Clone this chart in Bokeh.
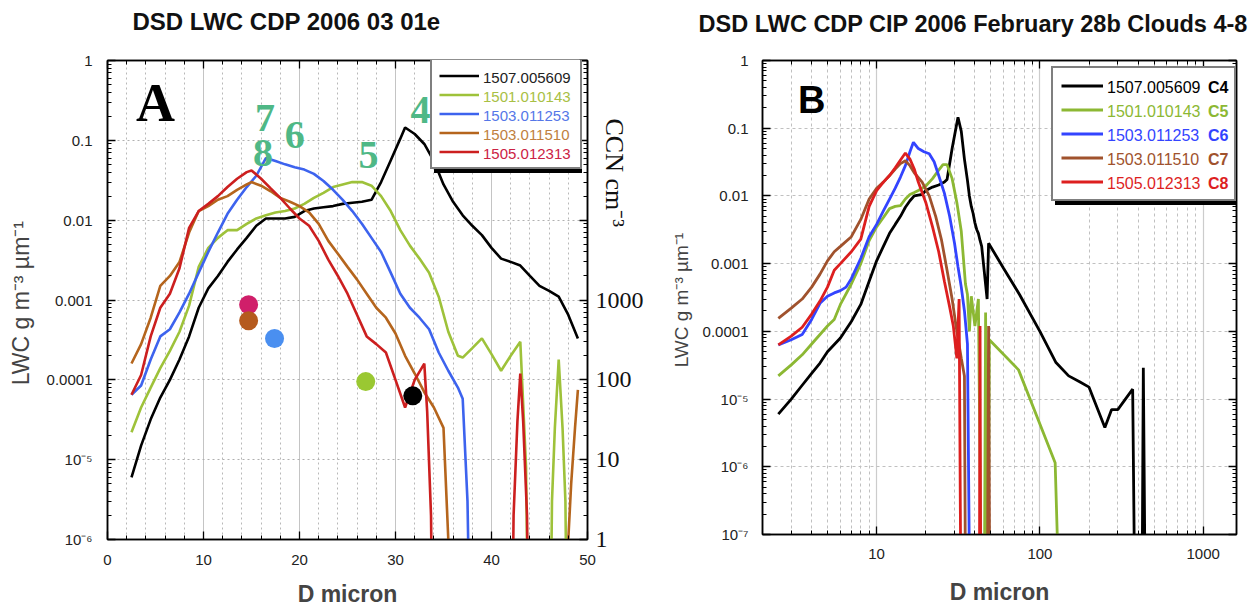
import math
from bokeh.plotting import figure
from bokeh.models import (Range1d, LinearAxis, LogAxis, LogScale, FixedTicker,
                          CustomJSTickFormatter, Legend, LegendItem, Title)
from bokeh.layouts import row
from bokeh.embed import file_html
from bokeh.resources import INLINE
from bokeh.core.properties import value

# ---------------- data ----------------
SERIES = ["1507.005609", "1501.010143", "1503.011253", "1503.011510", "1505.012313"]
CLOUDS = ["C4", "C5", "C6", "C7", "C8"]

# Panel A (CDP only, linear D)
A_x_1507 = [2.5,3.5,4.5,5.5,6.5,7.5,8.5,9.5,10.5,11.5,12.5,13.5,14.5,15.5,16.5,17.5,18.5,19.5,20.5,21.5,22.5,23.5,24.5,25.5,26.5,27.5,28.5,29.5,30.5,31.0,32,33,34,35,36,37,38,39,40,41,42,43,44,45,46,47,48,49]
A_y_1507 = [6e-6,1.5e-5,3.2e-5,6e-5,1e-4,1.8e-4,3.5e-4,8e-4,1.4e-3,2e-3,3e-3,4.3e-3,6e-3,8.5e-3,1.05e-2,1.05e-2,1.05e-2,1.1e-2,1.3e-2,1.4e-2,1.45e-2,1.5e-2,1.6e-2,1.65e-2,1.7e-2,1.8e-2,3e-2,5.6e-2,1.05e-1,1.45e-1,1.2e-1,9e-2,5.5e-2,2.8e-2,1.7e-2,1.15e-2,8.5e-3,6.5e-3,4.5e-3,3.3e-3,3e-3,2.7e-3,2e-3,1.5e-3,1.3e-3,1.1e-3,6.5e-4,3.3e-4]

A_x_1501 = [2.5,3.5,4.5,5.5,6.5,7.5,8.5,9.5,10.5,11.5,12.5,13.5,14.5,15.5,16.5,17.5,18.5,19.5,20.5,21.5,22.5,23.5,24.5,25.5,26.5,27.5,28.5,29.5,30.5,31.5,32.5,33.5,34.5,35.5,36.5,37.0,38,39,40,41,42,43,43.3,43.6,44,46,46.3,46.6,47,47.4,47.7,48]
A_y_1501 = [2.2e-5,4.5e-5,8e-5,1.4e-4,2.3e-4,4e-4,8.5e-4,2.6e-3,4.5e-3,6e-3,7.5e-3,7.5e-3,9e-3,1.05e-2,1.15e-2,1.25e-2,1.3e-2,1.4e-2,1.6e-2,1.9e-2,2.2e-2,2.6e-2,2.8e-2,3e-2,3e-2,2.7e-2,2e-2,1.3e-2,7.5e-3,4.8e-3,3.3e-3,2.2e-3,1.1e-3,4e-4,2e-4,1.9e-4,2.5e-4,3.3e-4,2.1e-4,1.3e-4,2e-4,3e-4,5e-5,8e-6,1e-9,1e-9,3e-6,2.5e-5,1.8e-4,2.5e-5,3e-6,1e-9]

A_x_1503a = [2.5,3.5,4.5,5.5,6.5,7.5,8.5,9.5,10.5,11.5,12.5,13.5,14.5,15.5,16.5,17.5,18.5,19.5,20.5,21.5,22.5,23.5,24.5,25.5,26.5,27.5,28.5,29.5,30.5,31.5,32.5,33.5,34.5,35.5,36.5,37.0,37.5,38.0]
A_y_1503a = [6.5e-5,8.5e-5,1.8e-4,3.5e-4,4.3e-4,7e-4,1.2e-3,2.2e-3,4e-3,7e-3,1.2e-2,1.8e-2,2.6e-2,3.6e-2,6e-2,5.5e-2,5e-2,4.6e-2,4.3e-2,3.8e-2,3.1e-2,2.4e-2,1.8e-2,1.3e-2,9e-3,6e-3,4e-3,2.2e-3,1.2e-3,8e-4,6e-4,4.3e-4,2.2e-4,1.3e-4,8e-5,5.8e-5,3e-6,1e-9]

A_x_1503b = [2.5,3.5,4.5,5.5,6.5,7.5,8.5,9.5,10.5,11.5,12.5,13.5,14.5,15,16,17,18,19,20,21,22,23,24,25,26,27,28,29,30,31,32,33,34,35,35.5,36,47.5,48,48.3,48.7,49]
A_y_1503b = [1.6e-4,2.8e-4,6e-4,1.5e-3,2e-3,3e-3,7e-3,1.3e-2,1.5e-2,1.8e-2,2e-2,2.4e-2,2.8e-2,3e-2,2.7e-2,2.3e-2,1.9e-2,1.7e-2,1.5e-2,1.25e-2,9e-3,5.5e-3,3.8e-3,2.6e-3,1.8e-3,1.2e-3,8e-4,6e-4,3.8e-4,2e-4,1.2e-4,7e-5,4.5e-5,2.5e-5,1e-6,1e-9,1e-9,1e-6,5e-6,2.5e-5,7.5e-5]

A_x_1505 = [2.5,3.5,4.5,5.5,6.5,7.5,8.5,9.5,10.5,11.5,12.5,13.5,14.5,15,16,17,18,19,20,21,22,23,24,25,26,27,28,29,30,31,32,33,33.3,33.7,34,42,42.3,42.7,43,43.3,43.7,44]
A_y_1505 = [6.5e-5,1.15e-4,3.5e-4,8e-4,1.2e-3,2.5e-3,8e-3,1.3e-2,1.6e-2,2e-2,2.6e-2,3.3e-2,4e-2,4.2e-2,3.3e-2,2.5e-2,1.9e-2,1.4e-2,1.05e-2,8.5e-3,5.5e-3,3.2e-3,2e-3,1.2e-3,6.5e-4,3.5e-4,2.8e-4,2.2e-4,1e-4,4.5e-5,1e-4,1.6e-4,4e-5,2e-6,1e-9,1e-9,2e-6,3e-5,1.2e-4,3e-5,2e-6,1e-9]

# CCN markers (panel A, right axis)
CCN_D = [14.7, 14.7, 17.4, 26.9, 31.8]
CCN_VAL = [870, 550, 330, 95, 63]
CCN_COLORS = ["#d01f6a", "#b55a1e", "#4a8ff0", "#9ac832", "#000000"]

# cloud number annotations (panel A)
NUM_TEXT = ["7", "8", "6", "5", "4"]
NUM_D = [16.4, 16.2, 19.5, 27.2, 32.6]
NUM_LWC = [0.19, 0.069, 0.115, 0.065, 0.237]

# Panel B (CDP + CIP, log D)
B_x_1507 = [2.5,3,3.5,4,4.5,5,6,7,8,9,10,11,12,13,14,15,16,17,18,19,20,22,24,26,27,29,31.5,33,34.5,36,37,38,39,40,41,42,43,44,47.5,48.5,60,75,100,125,150,175,200,250,275,300,370,385,420,430,445]
B_y_1507 = [6e-6,1e-5,1.6e-5,2.4e-5,3.4e-5,5e-5,8e-5,1.4e-4,2.5e-4,5.5e-4,1.1e-3,1.8e-3,2.8e-3,3.8e-3,5e-3,6.8e-3,8.5e-3,1e-2,1.03e-2,1.05e-2,1.2e-2,1.35e-2,1.45e-2,1.6e-2,1.75e-2,5e-2,1.45e-1,9e-2,3.5e-2,1.7e-2,1e-2,7e-3,5.5e-3,4e-3,3.2e-3,2.8e-3,2.2e-3,1.8e-3,3e-4,2e-3,8.5e-4,3.5e-4,1e-4,3.5e-5,2.2e-5,1.8e-5,1.5e-5,3.8e-6,7e-6,7e-6,1.4e-5,1e-9,1e-9,2.9e-5,1e-9]

B_x_1501 = [2.5,3,3.5,4,4.5,5,5.5,6,7,8,9,10,11,12,13,14,15,16,17,18,20,22,24,25.5,27,29,31,33,35,36,37,38,40,42,43,44,45.5,46.5,48,49,74,124,135]
B_y_1501 = [2.2e-5,3.2e-5,4.5e-5,6.5e-5,9e-5,1.2e-4,1.5e-4,2.5e-4,5e-4,1e-3,2.2e-3,3.5e-3,4.8e-3,6.5e-3,7e-3,7.2e-3,9e-3,1.05e-2,1.12e-2,1.2e-2,1.4e-2,1.8e-2,2.4e-2,2.9e-2,2.9e-2,1.8e-2,8e-3,3e-3,5e-4,3.5e-4,1e-4,3.3e-4,1.2e-4,3e-4,1e-6,1e-9,1e-9,1.9e-4,1e-9,7.5e-5,2.7e-5,1.15e-6,1e-9]

B_x_1503a = [2.5,3,3.5,4,4.5,5,5.5,6,6.5,7,8,9,10,11,12,13,14,15,16,16.8,18,19.5,21,22.5,24,26,28,30,31.5,33,34.5,36,37.5]
B_y_1503a = [6.3e-5,7.5e-5,9e-5,1.5e-4,2.6e-4,3.3e-4,3.7e-4,4e-4,4.5e-4,6e-4,1.2e-3,2.5e-3,3.8e-3,6e-3,9e-3,1.3e-2,1.9e-2,2.8e-2,4.5e-2,6.2e-2,5e-2,4.5e-2,4.2e-2,3.2e-2,2e-2,1.1e-2,5e-3,2e-3,9e-4,4.5e-4,2e-4,6.5e-5,1e-9]

B_x_1503b = [2.5,3,3.5,4,4.5,5,5.5,6,7,8,9,10,11,12,13,14,15,16,17,19,21,23,25,27,29,31,33,34.5,35.2,47.5,48.5,49.5]
B_y_1503b = [1.55e-4,2.2e-4,3e-4,4.5e-4,7e-4,1.1e-3,1.5e-3,1.8e-3,2.5e-3,4.5e-3,9e-3,1.3e-2,1.6e-2,2e-2,2.5e-2,3e-2,3.3e-2,2.8e-2,2.2e-2,1.6e-2,1e-2,5e-3,2.2e-3,8e-4,3e-4,1e-4,4e-5,2.2e-5,1e-9,1e-9,1.2e-4,1e-9]

B_x_1505 = [2.5,3,3.5,4,4.5,5,5.5,6,7,8,9,10,11,12,13,14,15,16,17,18,20,22,24,26,28,29.5,31,32,33,42.5,43,43.5]
B_y_1505 = [6.3e-5,8.5e-5,1.15e-4,1.8e-4,2.8e-4,4.5e-4,8e-4,1e-3,1.5e-3,2.3e-3,7e-3,1.2e-2,1.6e-2,2e-2,2.6e-2,3.4e-2,4.3e-2,3.5e-2,2.5e-2,1.6e-2,8e-3,3.5e-3,1.5e-3,5.5e-4,2.3e-4,1.2e-4,4e-5,3e-4,1e-9,1e-9,1.2e-4,1e-9]

A_X = [A_x_1507, A_x_1501, A_x_1503a, A_x_1503b, A_x_1505]
A_Y = [A_y_1507, A_y_1501, A_y_1503a, A_y_1503b, A_y_1505]
B_X = [B_x_1507, B_x_1501, B_x_1503a, B_x_1503b, B_x_1505]
B_Y = [B_y_1507, B_y_1501, B_y_1503a, B_y_1503b, B_y_1505]

A_COLORS = ["#000000", "#9ec23a", "#3d63ee", "#b5651d", "#cc1f1f"]
A_TEXT_COLORS = ["#222222", "#a8c044", "#5577e8", "#c08040", "#cc2244"]
B_COLORS = ["#000000", "#8cb833", "#3344ff", "#a0522d", "#dd1f1f"]

SANS = "Liberation Sans"
SERIF = "Liberation Serif"

YFMT = r"""
const e = Math.round(Math.log10(tick));
if (e >= -4) { return ["1","0.1","0.01","0.001","0.0001"][-e]; }
const sup = {"5":"\u2075","6":"\u2076","7":"\u2077","8":"\u2078"};
return "10\u207B" + sup[String(-e)];
"""


def log_minor(lo, hi, top=None):
    out = [m * 10.0 ** e for e in range(lo, hi) for m in range(2, 10)]
    if top is not None:
        out = [v for v in out if v <= top]
    return out


def style_axis(ax, font_size="15px"):
    ax.axis_line_color = "black"
    ax.axis_line_width = 1.5
    ax.major_tick_in = 8
    ax.major_tick_out = 0
    ax.minor_tick_in = 4
    ax.minor_tick_out = 0
    ax.major_tick_line_color = "black"
    ax.minor_tick_line_color = "black"
    ax.major_tick_line_width = 1.3
    ax.major_label_text_font = SANS
    ax.major_label_text_font_size = font_size
    ax.major_label_text_color = "#222222"


def bare_axis(ax):
    style_axis(ax, "1px")
    ax.formatter = CustomJSTickFormatter(code="return '';")
    ax.major_label_standoff = 0


def spacer_axis(ticker, height):
    ax = LinearAxis(ticker=ticker)
    ax.formatter = CustomJSTickFormatter(code="return '';")
    ax.major_label_text_font_size = "1px"
    ax.major_label_standoff = 0
    ax.axis_line_color = None
    ax.major_tick_line_color = None
    ax.minor_tick_line_color = None
    ax.major_tick_in = 0
    ax.minor_tick_in = 0
    ax.minor_tick_out = 0
    ax.major_tick_out = height
    return ax


def add_legends(p, renderers, dummy, labels, colors, loc, pad, gw, gh, sp, font, lw,
                clouds=None, cloud_x=None):
    common = dict(padding=pad, spacing=sp, glyph_width=gw, glyph_height=gh, label_height=gh,
                  label_standoff=6, label_text_font=SANS, label_text_font_size=font, margin=0)
    shadow = Legend(items=[LegendItem(label=value(""), renderers=[dummy]) for _ in labels],
                    location=(loc[0] + 4, loc[1] - 4), background_fill_color="black",
                    background_fill_alpha=1, border_line_alpha=0, label_text_alpha=0,
                    label_width=lw, **common)
    main = Legend(items=[LegendItem(label=value(""), renderers=[r]) for r in renderers],
                  location=loc, background_fill_color="white", background_fill_alpha=1,
                  border_line_color="black", border_line_width=2, label_text_alpha=0,
                  label_width=lw, **common)
    p.add_layout(shadow)
    p.add_layout(main)
    n = len(labels)
    single_h = 2 * pad + gh
    main_h = 2 * pad + n * gh + (n - 1) * sp
    for i, (t, c) in enumerate(zip(labels, colors)):
        ybot = loc[1] + main_h - i * (gh + sp) - single_h
        p.add_layout(Legend(items=[LegendItem(label=value(t), renderers=[dummy])],
                            location=(loc[0], ybot), background_fill_alpha=0,
                            border_line_alpha=0, label_text_color=c, **common))
        if clouds is not None:
            p.add_layout(Legend(items=[LegendItem(label=value(clouds[i]), renderers=[dummy])],
                                location=(cloud_x, ybot), background_fill_alpha=0,
                                border_line_alpha=0, label_text_color=c,
                                label_text_font_style="bold", **common))


def style_title(p, text, size, offset):
    p.title.text = text
    p.title.align = "left"
    p.title.offset = offset
    p.title.standoff = 8
    p.title.text_font = SANS
    p.title.text_font_size = size
    p.title.text_font_style = "bold"
    p.title.text_color = "#111111"


# ---------------- panel A ----------------
pA = figure(x_range=Range1d(0, 50), y_range=Range1d(1e-6, 1), y_axis_type="log",
            frame_width=480, frame_height=479, min_border_left=107, min_border_right=61,
            min_border_top=60, min_border_bottom=71, output_backend="svg",
            toolbar_location=None)
pA.extra_y_ranges = {"ccn": Range1d(1, 1e6)}
pA.extra_y_scales = {"ccn": LogScale()}
pA.outline_line_color = "black"
pA.outline_line_width = 1.5

xtA = FixedTicker(ticks=[0, 10, 20, 30, 40, 50], minor_ticks=[v for v in range(2, 50, 2) if v % 10])
ytA = FixedTicker(ticks=[10.0 ** e for e in range(-6, 1)], minor_ticks=log_minor(-6, 0))
pA.xaxis.ticker = xtA
pA.xgrid.ticker = xtA
pA.yaxis.ticker = ytA
pA.ygrid.ticker = ytA
pA.yaxis.formatter = CustomJSTickFormatter(code=YFMT)
for ax in pA.xaxis + pA.yaxis:
    style_axis(ax)
pA.xaxis.major_label_standoff = 15
pA.yaxis.major_label_standoff = 15
pA.xaxis.axis_label = "D micron"
pA.xaxis.axis_label_text_font = SANS
pA.xaxis.axis_label_text_font_style = "bold"
pA.xaxis.axis_label_text_font_size = "23px"
pA.xaxis.axis_label_standoff = 13
pA.yaxis.axis_label = "LWC  g m\u207B\u00B3 \u00B5m\u207B\u00B9"
pA.yaxis.axis_label_text_font = SANS
pA.yaxis.axis_label_text_font_style = "normal"
pA.yaxis.axis_label_text_font_size = "23px"
pA.yaxis.axis_label_standoff = 10

topA = LinearAxis(ticker=xtA)
bare_axis(topA)
pA.add_layout(topA, "above")
pA.add_layout(spacer_axis(xtA, 22), "above")
ccn_axis = LogAxis(y_range_name="ccn",
                   ticker=FixedTicker(ticks=[1, 10, 100, 1000, 1e4, 1e5, 1e6], minor_ticks=log_minor(0, 6)),
                   formatter=CustomJSTickFormatter(code="return tick <= 1000 ? tick.toFixed(0) : '';"))
style_axis(ccn_axis, "24px")
ccn_axis.major_label_text_font = SERIF
ccn_axis.major_label_text_color = "#111111"
ccn_axis.major_label_standoff = 8
pA.add_layout(ccn_axis, "right")
pA.add_layout(Title(text="CCN cm\u207B\u00B3", align="left", offset=58, standoff=-94,
                    text_font=SERIF, text_font_size="26px", text_font_style="normal",
                    text_color="#111111"), "right")

style_title(pA, "DSD LWC CDP 2006 03 01e", "24px", 25)

pA.xgrid.grid_line_color = "#c4c4c4"
pA.xgrid.minor_grid_line_color = "#b8b8b8"
pA.xgrid.minor_grid_line_dash = "2 3"
pA.ygrid.grid_line_color = "#b0b0b0"
pA.ygrid.grid_line_dash = "2 3"
pA.ygrid.minor_grid_line_color = None

rA = []
for xs, ys, c in zip(A_X, A_Y, A_COLORS):
    rA.append(pA.line(xs, ys, line_color=c, line_width=2.6))

pA.scatter(CCN_D, CCN_VAL, y_range_name="ccn", size=19, color=CCN_COLORS, line_color=None)

pA.text(NUM_D, NUM_LWC, text=NUM_TEXT, text_font=value(SERIF), text_font_style="bold",
        text_font_size="40px", text_color="#4fb886", text_align="center", text_baseline="middle")
pA.text([5.0], [0.29], text=["A"], text_font=value(SERIF), text_font_style="bold",
        text_font_size="54px", text_color="black", text_align="center", text_baseline="middle")

dummyA = pA.line(x=[], y=[], line_alpha=0)
add_legends(pA, rA, dummyA, SERIES, A_TEXT_COLORS, (323, 370), 7, 40, 17, 2, "15px", 88)

# ---------------- panel B ----------------
pB = figure(x_range=Range1d(2.0, 1600), y_range=Range1d(1e-7, 1), x_axis_type="log",
            y_axis_type="log", frame_width=474, frame_height=474, min_border_left=114,
            min_border_right=16, min_border_top=58, min_border_bottom=76,
            output_backend="svg", toolbar_location=None)
pB.outline_line_color = "black"
pB.outline_line_width = 1.5

xtB = FixedTicker(ticks=[10, 100, 1000], minor_ticks=log_minor(0, 4, top=1600))
ytB = FixedTicker(ticks=[10.0 ** e for e in range(-7, 1)], minor_ticks=log_minor(-7, 0))
pB.xaxis.ticker = xtB
pB.xgrid.ticker = xtB
pB.yaxis.ticker = ytB
pB.ygrid.ticker = ytB
pB.yaxis.formatter = CustomJSTickFormatter(code=YFMT)
pB.xaxis.formatter = CustomJSTickFormatter(code="return tick.toFixed(0);")
for ax in pB.xaxis + pB.yaxis:
    style_axis(ax)
pB.xaxis.major_label_standoff = 14
pB.yaxis.major_label_standoff = 14
pB.xaxis.axis_label = "D micron"
pB.xaxis.axis_label_text_font = SANS
pB.xaxis.axis_label_text_font_style = "bold"
pB.xaxis.axis_label_text_font_size = "23px"
pB.xaxis.axis_label_standoff = 17
pB.yaxis.axis_label = "LWC  g m\u207B\u00B3 \u00B5m\u207B\u00B9"
pB.yaxis.axis_label_text_font = SANS
pB.yaxis.axis_label_text_font_style = "normal"
pB.yaxis.axis_label_text_font_size = "19px"
pB.yaxis.axis_label_standoff = 8

topB = LogAxis(ticker=xtB)
bare_axis(topB)
pB.add_layout(topB, "above")
pB.add_layout(spacer_axis(xtB, 20), "above")
rightB = LogAxis(ticker=ytB)
bare_axis(rightB)
pB.add_layout(rightB, "right")

style_title(pB, "DSD LWC CDP CIP 2006 February 28b Clouds 4-8", "23.5px", -64)

pB.xgrid.grid_line_color = "#cccccc"
pB.xgrid.grid_line_width = 1.2
pB.xgrid.minor_grid_line_color = "#c0c0c0"
pB.xgrid.minor_grid_line_dash = "3 3"
pB.ygrid.grid_line_color = "#c0c0c0"
pB.ygrid.grid_line_dash = "3 3"
pB.ygrid.minor_grid_line_color = None

rB = []
for xs, ys, c in zip(B_X, B_Y, B_COLORS):
    rB.append(pB.line(xs, ys, line_color=c, line_width=2.8))

pB.text([4.0], [0.265], text=["B"], text_font=value(SANS), text_font_style="bold",
        text_font_size="38px", text_color="black", text_align="center", text_baseline="middle")

dummyB = pB.line(x=[], y=[], line_alpha=0)
add_legends(pB, rB, dummyB, SERIES, B_COLORS, (289, 333), 8, 42, 19, 5, "16px", 117,
            clouds=CLOUDS, cloud_x=390)

layout = row(pA, pB)
open("out.html", "w").write(file_html(layout, INLINE))
